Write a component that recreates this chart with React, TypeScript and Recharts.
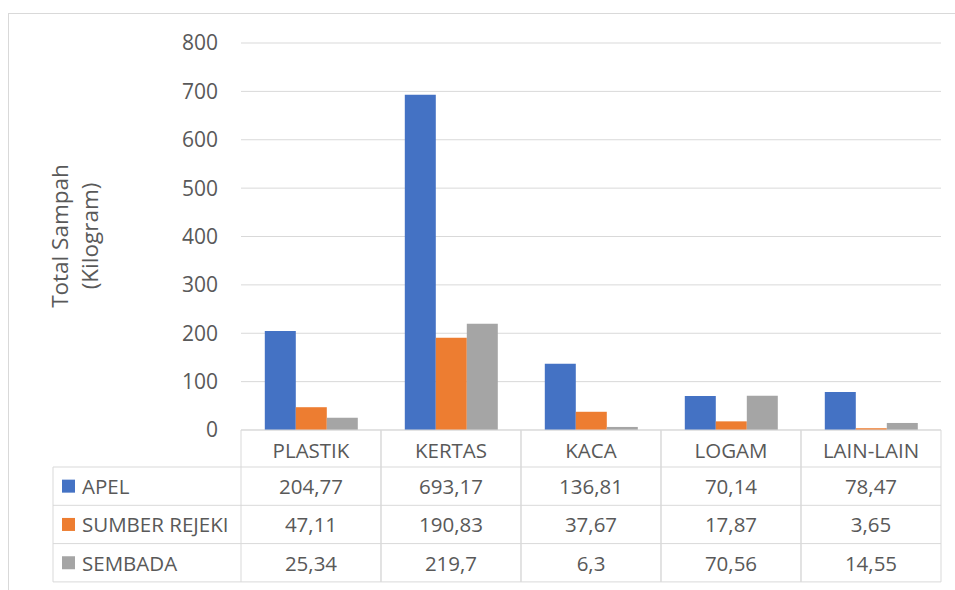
import { Bar, BarChart, CartesianGrid, XAxis, YAxis } from "recharts"

const categories = ["PLASTIK", "KERTAS", "KACA", "LOGAM", "LAIN-LAIN"]
const apel = [204.77, 693.17, 136.81, 70.14, 78.47]
const sumberRejeki = [47.11, 190.83, 37.67, 17.87, 3.65]
const sembada = [25.34, 219.7, 6.3, 70.56, 14.55]
const yTicks = [0, 100, 200, 300, 400, 500, 600, 700, 800]

const series = [
  { key: "apel", name: "APEL", color: "#4472C4", values: apel },
  { key: "sumber", name: "SUMBER REJEKI", color: "#ED7D31", values: sumberRejeki },
  { key: "sembada", name: "SEMBADA", color: "#A5A5A5", values: sembada },
]

const data = categories.map((cat, i) => ({
  cat,
  apel: apel[i],
  sumber: sumberRejeki[i],
  sembada: sembada[i],
}))

const FONT = "'Open Sans', sans-serif"
const TEXT = "#595959"
const LINE = "#d9d9d9"
const AXIS_Y = 430
const HEADER_Y = 467
const ROW_H = 38.3
const CELL_HALF = 70
const fmt = (v: number) => String(v).replace(".", ",")

function TableColumn(props: any) {
  const { x, payload } = props
  const i = payload.index
  const bottom = HEADER_Y + ROW_H * series.length
  return (
    <g>
      <line x1={x - CELL_HALF} x2={x - CELL_HALF} y1={AXIS_Y} y2={bottom} stroke={LINE} />
      <line x1={x + CELL_HALF} x2={x + CELL_HALF} y1={AXIS_Y} y2={bottom} stroke={LINE} />
      <text x={x} y={(AXIS_Y + HEADER_Y) / 2 + 1} textAnchor="middle" dominantBaseline="central" fill={TEXT} fontSize={20.5} fontFamily={FONT}>
        {payload.value}
      </text>
      {series.map((s, r) => (
        <text key={s.key} x={x} y={HEADER_Y + ROW_H * (r + 0.5)} textAnchor="middle" dominantBaseline="central" fill={TEXT} fontSize={20.5} fontFamily={FONT}>
          {fmt(s.values[i])}
        </text>
      ))}
    </g>
  )
}

export default function App() {
  const bottom = HEADER_Y + ROW_H * series.length
  return (
    <div style={{ position: "absolute", left: 0, top: 0, width: 955, height: 590, background: "#fff", overflow: "hidden" }}>
      <BarChart
        width={955}
        height={590}
        data={data}
        margin={{ top: 43, right: 14, left: 141, bottom: 8 }}
        barCategoryGap="17%"
        barGap={0}
      >
        <CartesianGrid vertical={false} stroke={LINE} />
        <XAxis
          dataKey="cat"
          height={152}
          tickLine={false}
          tickSize={0}
          tickMargin={0}
          stroke={LINE}
          interval={0}
          tick={<TableColumn />}
        />
        <YAxis
          width={100}
          domain={[0, 800]}
          ticks={yTicks}
          axisLine={false}
          tickLine={false}
          tickSize={0}
          tickMargin={23}
          tick={{ fill: TEXT, fontSize: 21, fontFamily: FONT }}
        />
        {series.map((s) => (
          <Bar key={s.key} dataKey={s.key} name={s.name} fill={s.color} isAnimationActive={false} />
        ))}
      </BarChart>
      <svg width={955} height={590} style={{ position: "absolute", left: 0, top: 0, pointerEvents: "none" }}>
        <rect x={8.5} y={13.5} width={1000} height={1000} fill="none" stroke={LINE} />
        <text transform="translate(68,236) rotate(-90)" textAnchor="middle" fill={TEXT} fontSize={22.5} fontFamily={FONT}>
          Total Sampah
        </text>
        <text transform="translate(98,236) rotate(-90)" textAnchor="middle" fill={TEXT} fontSize={22.5} fontFamily={FONT}>
          (Kilogram)
        </text>
        <line x1={53} x2={53} y1={HEADER_Y} y2={bottom} stroke={LINE} />
        {[0, 1, 2, 3].map((r) => (
          <line key={r} x1={53} x2={941} y1={HEADER_Y + ROW_H * r} y2={HEADER_Y + ROW_H * r} stroke={LINE} />
        ))}
        {series.map((s, r) => (
          <g key={s.key}>
            <rect x={62} y={HEADER_Y + ROW_H * (r + 0.5) - 6.5} width={13} height={13} fill={s.color} />
            <text x={82} y={HEADER_Y + ROW_H * (r + 0.5)} dominantBaseline="central" fill={TEXT} fontSize={20.5} fontFamily={FONT}>
              {s.name}
            </text>
          </g>
        ))}
      </svg>
    </div>
  )
}
